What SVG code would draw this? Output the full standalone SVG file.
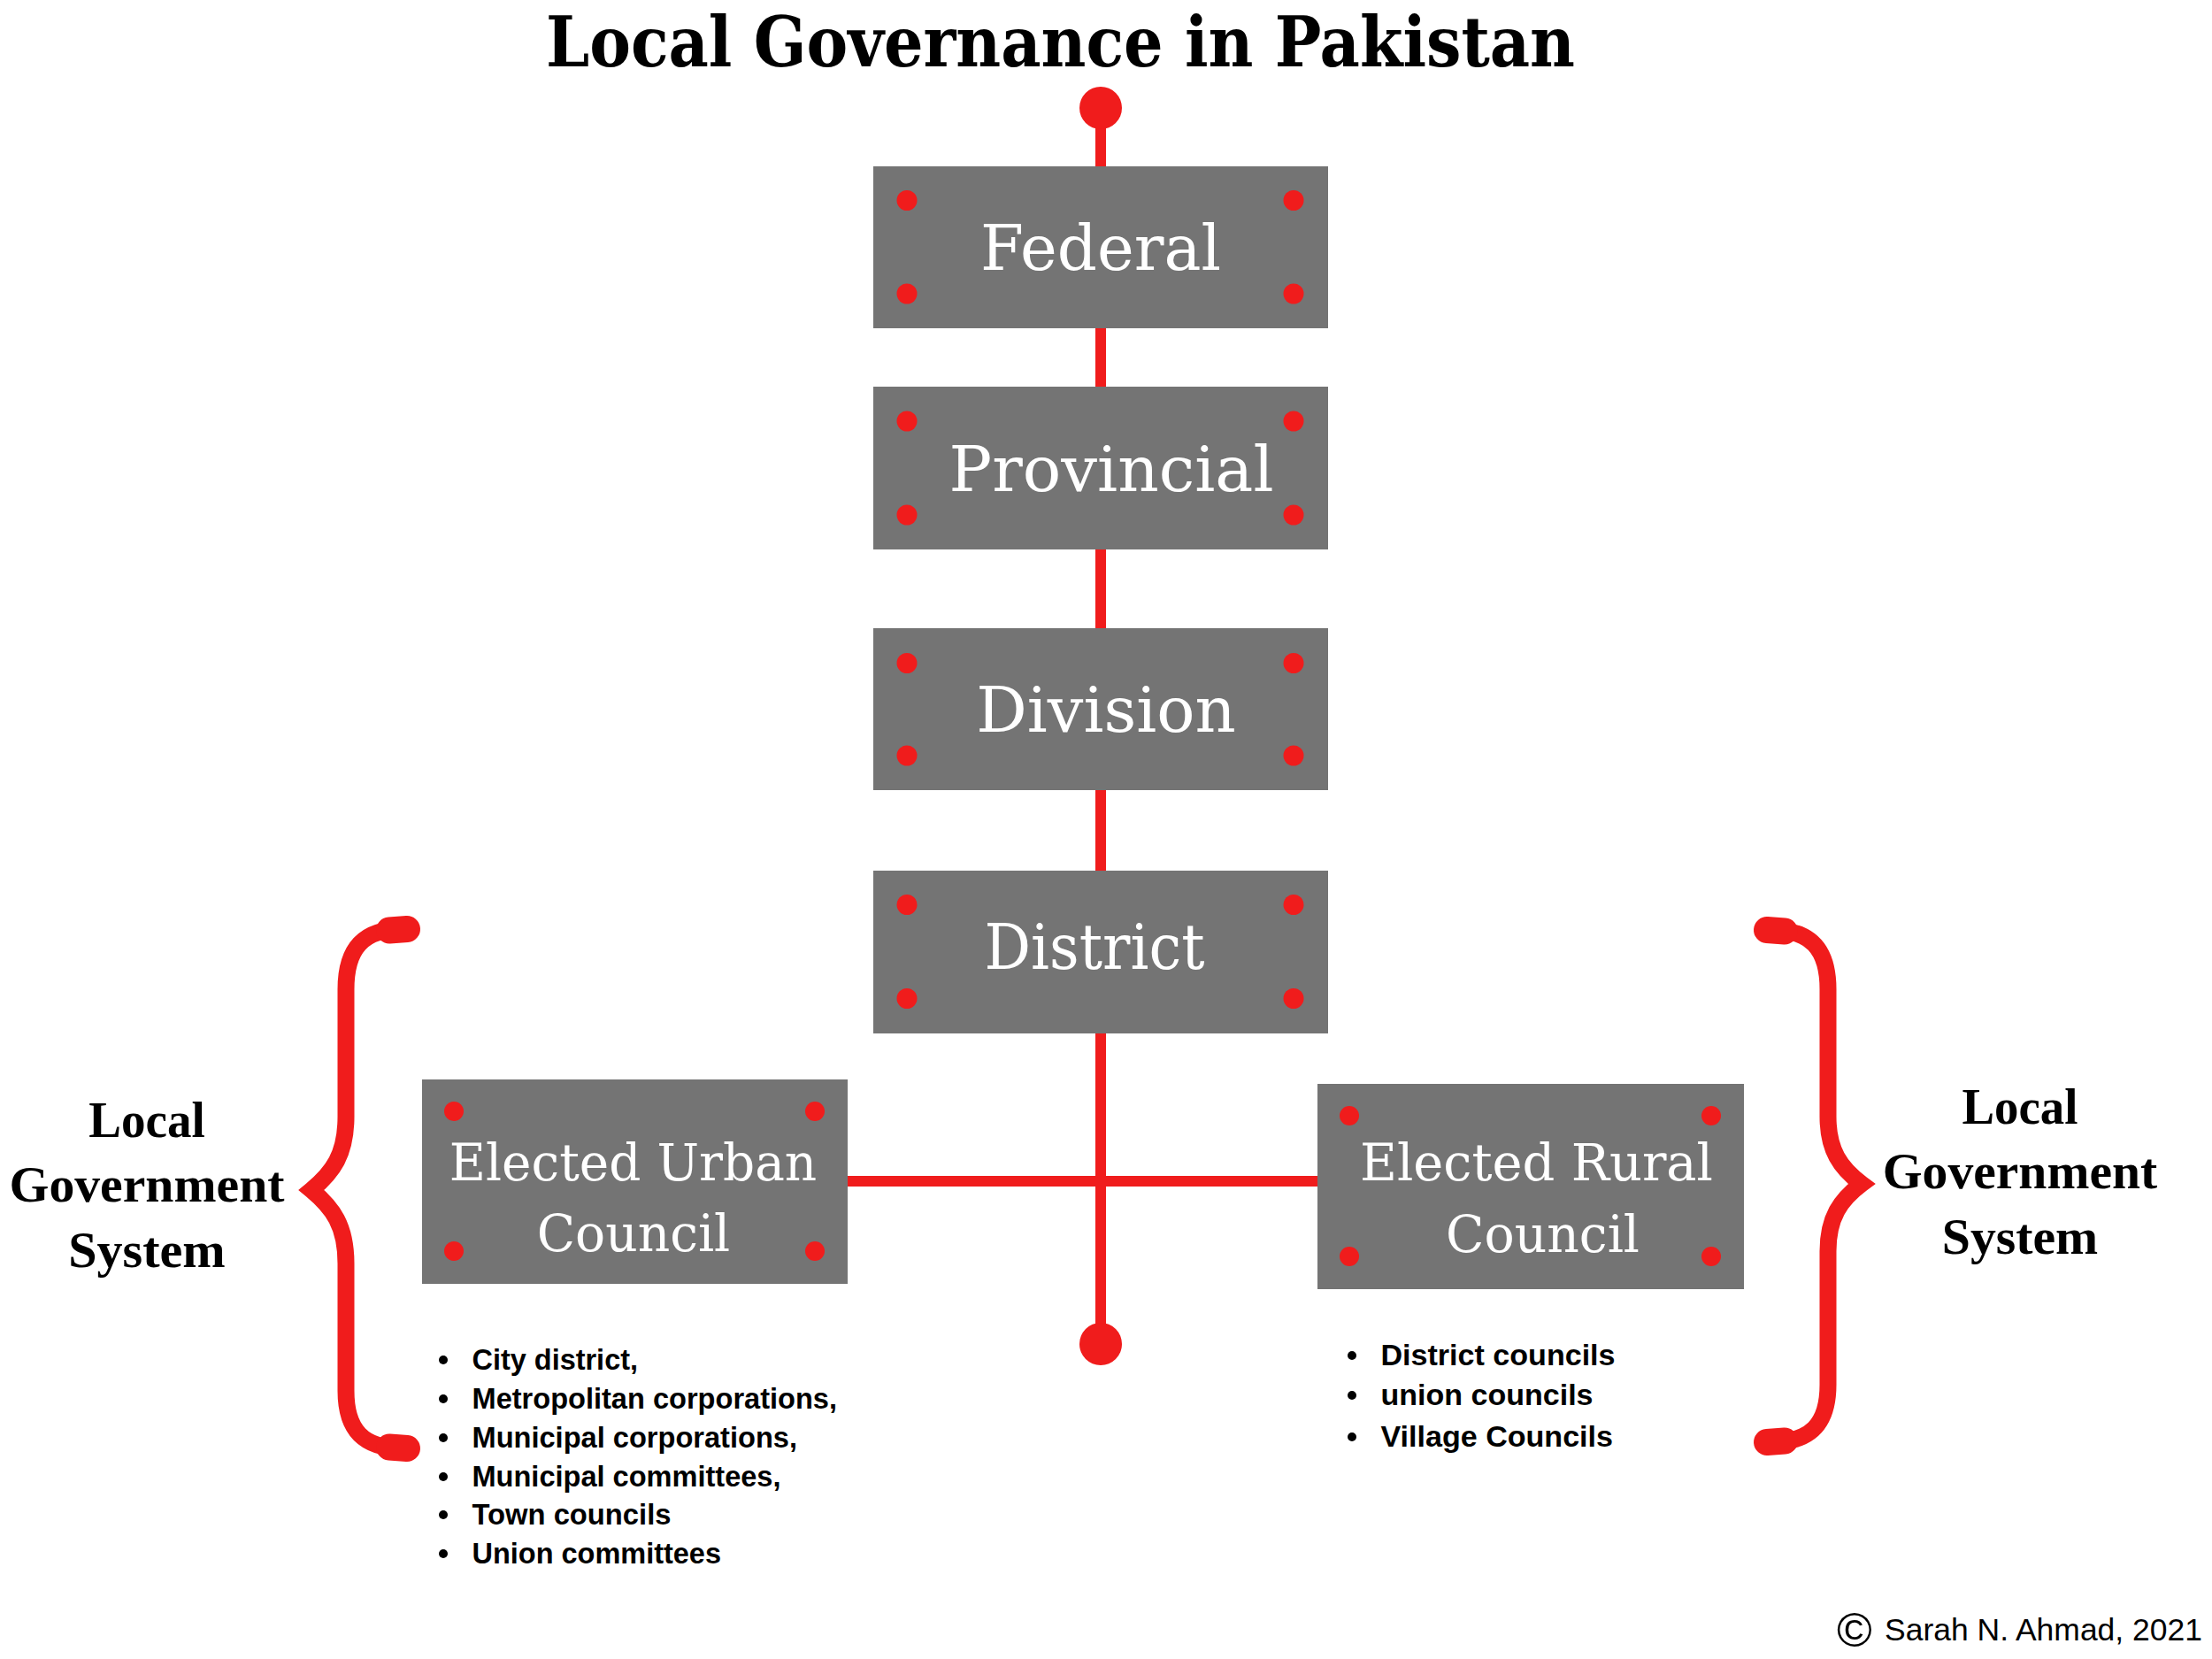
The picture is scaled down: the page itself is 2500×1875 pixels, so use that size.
<svg xmlns="http://www.w3.org/2000/svg" width="2500" height="1875" viewBox="0 0 2500 1875">
<style>
.box{fill:#747474;}
.dot{fill:#f01c1c;}
.line{stroke:#f01c1c;stroke-width:12;fill:none;}
.brace{stroke:#f01c1c;stroke-width:19;fill:none;stroke-linecap:round;stroke-linejoin:miter;stroke-miterlimit:10;}
.brace-end{stroke:#f01c1c;stroke-width:30;fill:none;stroke-linecap:round;}
.red{fill:#f01c1c;}
.btxt{font-family:"DejaVu Serif","Liberation Serif",serif;fill:#ffffff;text-anchor:middle;}
.big{font-size:71px;}
.mid{font-size:57.6px;}
.title{font-family:"DejaVu Serif","Liberation Serif",serif;font-weight:bold;font-size:78px;fill:#000;text-anchor:middle;}
.side{font-family:"Liberation Serif","DejaVu Serif",serif;font-weight:bold;font-size:58px;fill:#000;text-anchor:middle;}
.li{font-family:"Liberation Sans",Arial,sans-serif;font-weight:bold;font-size:33px;fill:#000;}
.bul{fill:#000;}
.copy{font-family:"Liberation Sans",Arial,sans-serif;font-size:35px;fill:#000;}
.csym{font-family:"Liberation Sans",Arial,sans-serif;font-size:54px;fill:#000;text-anchor:middle;}
</style>
<rect width="2500" height="1875" fill="#ffffff"/>

<text class="title" x="1198.5" y="75" textLength="1163" lengthAdjust="spacingAndGlyphs">Local Governance in Pakistan</text>

<g id="connectors">
  <line class="line" x1="1244" y1="122" x2="1244" y2="1519"/>
  <line class="line" x1="958" y1="1335" x2="1489" y2="1335"/>
  <circle class="red" cx="1244" cy="122" r="24"/>
  <circle class="red" cx="1244" cy="1519" r="24"/>
</g>

<g id="federal">
  <rect class="box" x="987" y="188" width="514" height="183"/>
  <circle class="dot" cx="1025" cy="226.5" r="11.5"/>
  <circle class="dot" cx="1462" cy="226.5" r="11.5"/>
  <circle class="dot" cx="1025" cy="332" r="11.5"/>
  <circle class="dot" cx="1462" cy="332" r="11.5"/>
  <text class="btxt big" x="1244" y="305" textLength="272" lengthAdjust="spacingAndGlyphs">Federal</text>
</g>

<g id="provincial">
  <rect class="box" x="987" y="437" width="514" height="184"/>
  <circle class="dot" cx="1025" cy="476" r="11.5"/>
  <circle class="dot" cx="1462" cy="476" r="11.5"/>
  <circle class="dot" cx="1025" cy="582" r="11.5"/>
  <circle class="dot" cx="1462" cy="582" r="11.5"/>
  <text class="btxt big" x="1256" y="555" textLength="367" lengthAdjust="spacingAndGlyphs">Provincial</text>
</g>

<g id="division">
  <rect class="box" x="987" y="710" width="514" height="183"/>
  <circle class="dot" cx="1025" cy="749.5" r="11.5"/>
  <circle class="dot" cx="1462" cy="749.5" r="11.5"/>
  <circle class="dot" cx="1025" cy="854" r="11.5"/>
  <circle class="dot" cx="1462" cy="854" r="11.5"/>
  <text class="btxt big" x="1250" y="827" textLength="293.5" lengthAdjust="spacingAndGlyphs">Division</text>
</g>

<g id="district">
  <rect class="box" x="987" y="984" width="514" height="184"/>
  <circle class="dot" cx="1025" cy="1022.5" r="11.5"/>
  <circle class="dot" cx="1462" cy="1022.5" r="11.5"/>
  <circle class="dot" cx="1025" cy="1128.5" r="11.5"/>
  <circle class="dot" cx="1462" cy="1128.5" r="11.5"/>
  <text class="btxt big" x="1237" y="1095" textLength="249" lengthAdjust="spacingAndGlyphs">District</text>
</g>

<g id="urban">
  <rect class="box" x="477" y="1220" width="481" height="231"/>
  <circle class="dot" cx="513" cy="1256" r="11"/>
  <circle class="dot" cx="921" cy="1256" r="11"/>
  <circle class="dot" cx="513" cy="1414" r="11"/>
  <circle class="dot" cx="921" cy="1414" r="11"/>
  <text class="btxt mid" x="715.5" y="1334" textLength="415.5" lengthAdjust="spacingAndGlyphs">Elected Urban</text>
  <text class="btxt mid" x="716" y="1414" textLength="218.5" lengthAdjust="spacingAndGlyphs">Council</text>
</g>

<g id="rural">
  <rect class="box" x="1489" y="1225" width="482" height="232"/>
  <circle class="dot" cx="1525" cy="1261" r="11"/>
  <circle class="dot" cx="1934" cy="1261" r="11"/>
  <circle class="dot" cx="1525" cy="1420" r="11"/>
  <circle class="dot" cx="1934" cy="1420" r="11"/>
  <text class="btxt mid" x="1736.5" y="1334" textLength="399" lengthAdjust="spacingAndGlyphs">Elected Rural</text>
  <text class="btxt mid" x="1743.5" y="1415" textLength="219" lengthAdjust="spacingAndGlyphs">Council</text>
</g>

<g id="urban-list">
  <circle class="bul" cx="501" cy="1537" r="5"/>
  <circle class="bul" cx="501" cy="1581" r="5"/>
  <circle class="bul" cx="501" cy="1625" r="5"/>
  <circle class="bul" cx="501" cy="1669" r="5"/>
  <circle class="bul" cx="501" cy="1712" r="5"/>
  <circle class="bul" cx="501" cy="1756" r="5"/>
  <text class="li" x="533.5" y="1548" textLength="187.5" lengthAdjust="spacingAndGlyphs">City district,</text>
  <text class="li" x="533.5" y="1592" textLength="412.5" lengthAdjust="spacingAndGlyphs">Metropolitan corporations,</text>
  <text class="li" x="533.5" y="1636" textLength="367.5" lengthAdjust="spacingAndGlyphs">Municipal corporations,</text>
  <text class="li" x="533.5" y="1680" textLength="349" lengthAdjust="spacingAndGlyphs">Municipal committees,</text>
  <text class="li" x="533.5" y="1723" textLength="225" lengthAdjust="spacingAndGlyphs">Town councils</text>
  <text class="li" x="533.5" y="1767" textLength="281.5" lengthAdjust="spacingAndGlyphs">Union committees</text>
</g>

<g id="rural-list">
  <circle class="bul" cx="1528" cy="1532" r="5"/>
  <circle class="bul" cx="1528" cy="1577" r="5"/>
  <circle class="bul" cx="1528" cy="1624" r="5"/>
  <text class="li" x="1560.5" y="1543" textLength="265" lengthAdjust="spacingAndGlyphs">District councils</text>
  <text class="li" x="1560.5" y="1588" textLength="240" lengthAdjust="spacingAndGlyphs">union councils</text>
  <text class="li" x="1560.5" y="1635" textLength="262.5" lengthAdjust="spacingAndGlyphs">Village Councils</text>
</g>

<g id="left-brace">
  <path class="brace" d="M 455 1050 C 410 1050 391 1072 391 1118 L 391 1262 C 391 1305 376 1325 352 1345 C 376 1365 391 1385 391 1428 L 391 1572 C 391 1616 410 1637 455 1637"/>
  <path class="brace-end" d="M 460 1050 L 440 1051.5"/>
  <path class="brace-end" d="M 460 1637 L 440 1635.5"/>
</g>

<g id="right-brace">
  <path class="brace" d="M 2002 1051 C 2046 1051 2066 1072 2066 1118 L 2066 1262 C 2066 1300 2080 1320 2104 1338 C 2080 1356 2066 1376 2066 1414 L 2066 1565 C 2066 1610 2046 1630 2002 1630"/>
  <path class="brace-end" d="M 1997 1051 L 2017 1052.5"/>
  <path class="brace-end" d="M 1997 1630 L 2017 1628.5"/>
</g>

<g id="left-label">
  <text class="side" x="166" y="1285" textLength="131.5" lengthAdjust="spacingAndGlyphs">Local</text>
  <text class="side" x="166" y="1358" textLength="311" lengthAdjust="spacingAndGlyphs">Government</text>
  <text class="side" x="166" y="1431.5" textLength="177.5" lengthAdjust="spacingAndGlyphs">System</text>
</g>

<g id="right-label">
  <text class="side" x="2283" y="1270" textLength="131" lengthAdjust="spacingAndGlyphs">Local</text>
  <text class="side" x="2283" y="1343" textLength="310.5" lengthAdjust="spacingAndGlyphs">Government</text>
  <text class="side" x="2283" y="1416.5" textLength="176.5" lengthAdjust="spacingAndGlyphs">System</text>
</g>

<g id="copyright">
  <text class="csym" x="2096" y="1861">©</text>
  <text class="copy" x="2130" y="1854" textLength="359" lengthAdjust="spacingAndGlyphs">Sarah N. Ahmad, 2021</text>
</g>
</svg>
